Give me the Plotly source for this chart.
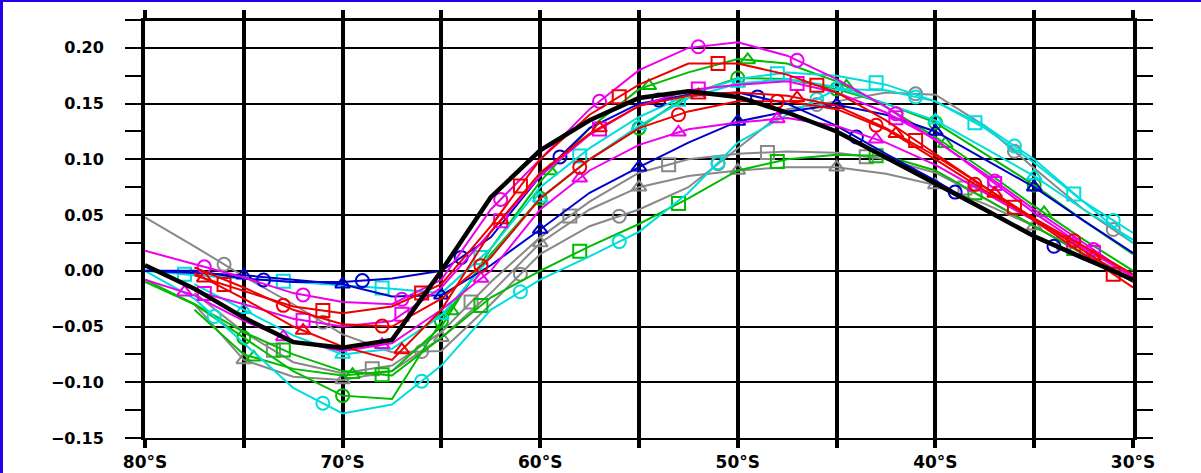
import numpy as np
import plotly.graph_objects as go

# ---------------- data ----------------
LAT = [80, 77.5, 75, 72.5, 70, 67.5, 65, 62.5, 60, 57.5, 55, 52.5, 50, 47.5, 45, 42.5, 40, 37.5, 35, 32.5, 30]

black = [0.005, -0.016, -0.042, -0.064, -0.069, -0.062, 0.0, 0.066, 0.108, 0.135, 0.155, 0.161, 0.156, 0.142, 0.125, 0.102, 0.079, 0.055, 0.031, 0.012, -0.008]

red_sq = [None, -0.004, -0.018, -0.032, -0.038, -0.032, -0.012, 0.04, 0.1, 0.14, 0.167, 0.186, 0.186, 0.176, 0.16, 0.135, 0.105, 0.075, 0.045, 0.015, -0.015]
red_ci = [None, 0.003, -0.015, -0.035, -0.048, -0.05, -0.025, 0.012, 0.065, 0.1, 0.128, 0.143, 0.152, 0.152, 0.145, 0.127, 0.1, 0.072, 0.047, 0.022, -0.003]
red_tr = [None, -0.002, -0.025, -0.05, -0.068, -0.08, -0.035, 0.035, 0.088, 0.123, 0.148, 0.157, 0.16, 0.157, 0.148, 0.128, 0.103, 0.075, 0.047, 0.018, -0.01]

mag_ci = [0.018, 0.006, -0.006, -0.02, -0.028, -0.03, -0.008, 0.055, 0.1, 0.145, 0.18, 0.2, 0.205, 0.193, 0.172, 0.147, 0.117, 0.087, 0.055, 0.025, -0.005]
mag_sq = [None, -0.018, -0.03, -0.043, -0.05, -0.045, -0.015, 0.035, 0.085, 0.122, 0.148, 0.162, 0.167, 0.17, 0.16, 0.142, 0.118, 0.085, 0.052, 0.022, -0.006]
mag_tr = [-0.008, -0.022, -0.045, -0.063, -0.072, -0.065, -0.035, 0.0, 0.055, 0.09, 0.113, 0.127, 0.133, 0.137, 0.13, 0.115, 0.095, 0.07, 0.045, 0.02, -0.005]

grn_ci = [-0.01, -0.03, -0.06, -0.09, -0.112, -0.115, -0.045, 0.015, 0.065, 0.1, 0.128, 0.158, 0.173, 0.172, 0.163, 0.15, 0.133, 0.105, 0.077, 0.045, 0.015]
grn_tr = [None, -0.035, -0.075, -0.088, -0.094, -0.09, -0.05, 0.02, 0.08, 0.128, 0.163, 0.178, 0.19, 0.186, 0.17, 0.147, 0.12, 0.09, 0.058, 0.028, 0.0]
grn_sq = [-0.008, -0.03, -0.055, -0.075, -0.09, -0.094, -0.06, -0.024, 0.0, 0.022, 0.042, 0.065, 0.09, 0.1, 0.104, 0.103, 0.09, 0.065, 0.04, 0.015, -0.01]

blu_ci = [0.0, 0.0, -0.007, -0.01, -0.01, -0.007, 0.0, 0.03, 0.085, 0.128, 0.15, 0.158, 0.16, 0.15, 0.13, 0.105, 0.081, 0.055, 0.03, 0.01, -0.007]
blu_tr = [0.0, -0.002, -0.004, -0.008, -0.012, -0.023, -0.022, 0.005, 0.037, 0.07, 0.093, 0.115, 0.134, 0.143, 0.149, 0.14, 0.125, 0.1, 0.075, 0.045, 0.016]

cya_ci = [0.0, -0.025, -0.065, -0.105, -0.128, -0.12, -0.085, -0.035, -0.008, 0.013, 0.035, 0.07, 0.115, 0.14, 0.163, 0.162, 0.152, 0.13, 0.1, 0.062, 0.034]
cya_sq = [0.0, -0.004, -0.007, -0.01, -0.013, -0.016, -0.02, 0.02, 0.075, 0.11, 0.138, 0.158, 0.172, 0.178, 0.175, 0.167, 0.152, 0.128, 0.097, 0.062, 0.025]
cya_tr = [None, -0.012, -0.035, -0.058, -0.075, -0.07, -0.04, 0.012, 0.065, 0.1, 0.13, 0.155, 0.168, 0.172, 0.165, 0.15, 0.135, 0.11, 0.085, 0.055, 0.028]

gry_ci = [0.048, 0.022, -0.005, -0.03, -0.057, -0.073, -0.072, -0.03, 0.015, 0.04, 0.055, 0.075, 0.11, 0.145, 0.152, 0.16, 0.158, 0.13, 0.092, 0.055, 0.025]
gry_sq = [None, -0.02, -0.055, -0.082, -0.092, -0.085, -0.055, -0.01, 0.03, 0.062, 0.088, 0.1, 0.105, 0.107, 0.106, 0.1, 0.088, 0.065, 0.04, 0.015, -0.01]
gry_tr = [None, -0.03, -0.08, -0.095, -0.098, -0.09, -0.06, -0.02, 0.025, 0.055, 0.075, 0.085, 0.09, 0.093, 0.093, 0.087, 0.077, 0.06, 0.04, 0.015, -0.005]

# marker latitudes per series
mk_a = [76, 71, 66, 61, 56, 51, 46, 41, 36, 31]
mk_b = [73, 68, 63, 58, 53, 48, 43, 38, 33]
mk_c = [77, 72, 67, 62, 57, 52, 47, 42, 37, 32]
mk_d = [75, 70, 65, 60, 55, 50, 45, 40, 35]
mk_e = [74, 69, 64, 59, 54, 49, 44, 39, 34]
mk_f = [78, 73, 68, 63, 58, 53, 48, 43, 38, 33]
mk_g = [76.5, 71, 66, 61, 56, 51, 46, 41, 36, 31]
mk_h = [74.5, 69.5, 64.5, 59.5, 54.5, 49.5, 44.5, 39.5, 34.5]
mk_i = [73.5, 68.5, 63.5, 58.5, 53.5, 48.5, 43.5, 38.5, 33.5]

X_TICKS = [80, 75, 70, 65, 60, 55, 50, 45, 40, 35, 30]
X_LABELS = ["80°S", "", "70°S", "", "60°S", "", "50°S", "", "40°S", "", "30°S"]
Y_TICKS = [-0.15, -0.10, -0.05, 0.00, 0.05, 0.10, 0.15, 0.20]

RED, MAG, GRN, BLU, CYA, GRY = "#ee0000", "#ee00ee", "#00bb00", "#0000cc", "#00dddd", "#888888"

series = [
    (gry_sq, GRY, "square-open", mk_i),
    (gry_tr, GRY, "triangle-up-open", mk_d),
    (gry_ci, GRY, "circle-open", mk_a),
    (grn_sq, GRN, "square-open", mk_b),
    (grn_tr, GRN, "triangle-up-open", mk_h),
    (grn_ci, GRN, "circle-open", mk_d),
    (cya_sq, CYA, "square-open", mk_f),
    (cya_tr, CYA, "triangle-up-open", mk_d),
    (cya_ci, CYA, "circle-open", mk_g),
    (blu_ci, BLU, "circle-open", mk_e),
    (blu_tr, BLU, "triangle-up-open", mk_d),
    (mag_sq, MAG, "square-open", mk_c),
    (mag_tr, MAG, "triangle-up-open", mk_f),
    (mag_ci, MAG, "circle-open", mk_c),
    (red_ci, RED, "circle-open", mk_b),
    (red_tr, RED, "triangle-up-open", mk_c),
    (red_sq, RED, "square-open", mk_a),
]

fig = go.Figure()
for vals, col, sym, mks in series:
    lat = np.array([l for l, v in zip(LAT, vals) if v is not None], dtype=float)
    v = np.array([v for v in vals if v is not None], dtype=float)
    fig.add_trace(go.Scatter(x=lat, y=v, mode="lines", line=dict(color=col, width=2),
                             showlegend=False, hoverinfo="skip"))
    mk = np.array([m for m in mks if lat.min() <= m <= lat.max()], dtype=float)
    my = np.interp(mk, lat[::-1], v[::-1])
    fig.add_trace(go.Scatter(x=mk, y=my, mode="markers",
                             marker=dict(symbol=sym, size=13, color=col, line=dict(color=col, width=2)),
                             showlegend=False, hoverinfo="skip"))

fig.add_trace(go.Scatter(x=LAT, y=black, mode="lines", line=dict(color="black", width=4.5),
                         showlegend=False, hoverinfo="skip"))

W, H = 1201, 473
L, R, T, B = 145, 68, 20, 35
pw, ph = W - L - R, H - T - B

fig.update_layout(
    width=W, height=H,
    margin=dict(l=L, r=R, t=T, b=B, autoexpand=False),
    paper_bgcolor="white", plot_bgcolor="white",
    xaxis=dict(range=[80, 30], tickvals=X_TICKS, ticktext=X_LABELS, automargin=False,
               showgrid=True, gridcolor="black", gridwidth=4,
               ticks="outside", ticklen=8, tickwidth=4, tickcolor="black",
               mirror="ticks", showline=True, linecolor="black", linewidth=2,
               zeroline=False, ticklabelstandoff=0,
               tickfont=dict(family="DejaVu Sans", size=17, color="black", weight="bold")),
    yaxis=dict(range=[-0.15, 0.225], tickvals=Y_TICKS, tickformat=".2f", automargin=False,
               showgrid=True, gridcolor="black", gridwidth=2,
               ticks="outside", ticklen=16, tickwidth=2, tickcolor="black",
               mirror="ticks", showline=True, linecolor="black", linewidth=4,
               zeroline=False, ticklabelstandoff=18,
               minor=dict(tickvals=[-0.125, -0.075, -0.025, 0.025, 0.075, 0.125, 0.175, 0.225],
                          ticks="outside", ticklen=16, tickwidth=2, tickcolor="black", showgrid=False),
               tickfont=dict(family="DejaVu Sans", size=16, color="black", weight="bold")),
    shapes=[
        dict(type="line", xref="paper", yref="paper", x0=0, x1=1, y0=1, y1=1,
             line=dict(color="black", width=2)),
        dict(type="rect", xref="paper", yref="paper", x0=-L / pw, x1=(3 - L) / pw,
             y0=-B / ph, y1=1 + T / ph, fillcolor="#2200ee", line=dict(width=0), layer="above"),
        dict(type="rect", xref="paper", yref="paper", x0=-L / pw, x1=1 + R / pw,
             y0=1 + (T - 2) / ph, y1=1 + T / ph, fillcolor="#2200ee", line=dict(width=0), layer="above"),
    ],
)

fig.write_html("out.html")
